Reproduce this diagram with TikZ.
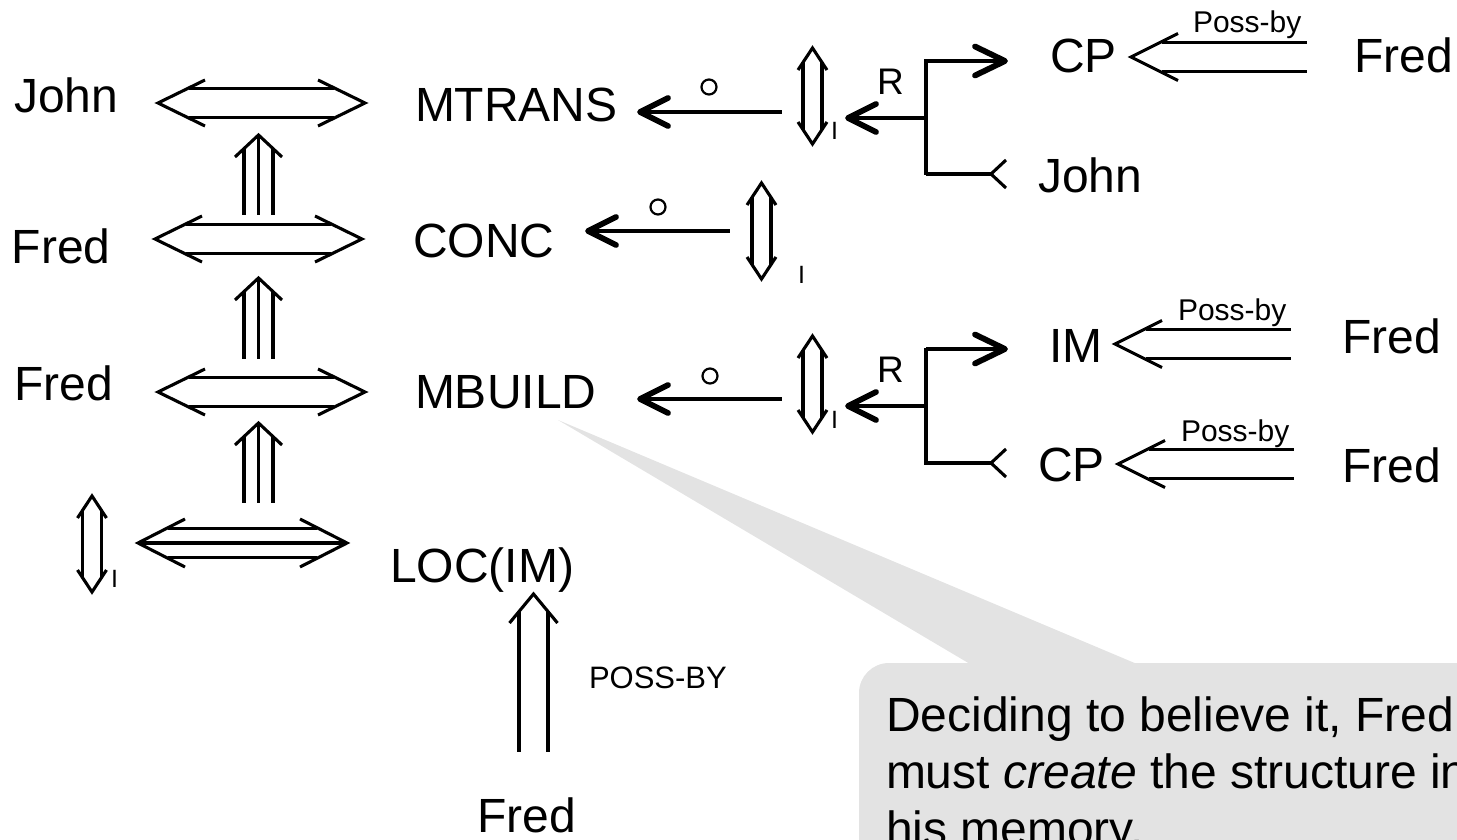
\documentclass[tikz,border=0pt]{standalone}
\usepackage{fontspec}
\setmainfont{Liberation Sans}
\definecolor{callgray}{RGB}{227,227,227}
\tikzset{
  lbl/.style={inner sep=0pt, outer sep=0pt, anchor=base west, font=\fontsize{48}{56}\selectfont},
  capt/.style={inner sep=0pt, outer sep=0pt, anchor=base west, font=\fontsize{48}{57}\selectfont},
  possl/.style={inner sep=0pt, outer sep=0pt, anchor=base west, font=\fontsize{30}{36}\selectfont},
  rl/.style={inner sep=0pt, outer sep=0pt, anchor=base west, font=\fontsize{37}{44}\selectfont},
  il/.style={inner sep=0pt, outer sep=0pt, anchor=base west, font=\fontsize{25}{30}\selectfont},
  conn/.style={line width=3.1pt, line cap=butt, line join=miter},
  heavyhead/.style={line width=5.8pt, line cap=round, line join=round},
  circ/.style={line width=2.2pt},
}
% horizontal double-line two-headed arrow: xl xr y
\newcommand\HDbl[3]{%
  \draw[conn] ({#1+47},{#3-23}) -- (#1,#3) -- ({#1+47},{#3+23});
  \draw[conn] ({#2-47},{#3-23}) -- (#2,#3) -- ({#2-47},{#3+23});
  \draw[conn] ({#1+31},{#3-14.5}) -- ({#2-31},{#3-14.5});
  \draw[conn] ({#1+31},{#3+14.5}) -- ({#2-31},{#3+14.5});}
% horizontal triple-line two-headed arrow
\newcommand\HTri[3]{%
  \draw[conn] ({#1+47},{#3-24}) -- (#1,#3) -- ({#1+47},{#3+24});
  \draw[conn] ({#2-47},{#3-24}) -- (#2,#3) -- ({#2-47},{#3+24});
  \draw[conn] ({#1+30},{#3-14.5}) -- ({#2-30},{#3-14.5});
  \draw[conn] (#1,#3) -- (#2,#3);
  \draw[conn] ({#1+30},{#3+14.5}) -- ({#2-30},{#3+14.5});}
% triple-line up arrow: x ytip ybottom
\newcommand\TriUp[3]{%
  \draw[conn] ({#1-23.5},{#2+22}) -- (#1,#2) -- ({#1+23.5},{#2+22});
  \draw[conn] ({#1-14.5},{#2+13}) -- ({#1-14.5},#3);
  \draw[conn] (#1,{#2+2}) -- (#1,#3);
  \draw[conn] ({#1+14.5},{#2+13}) -- ({#1+14.5},#3);}
% thin vertical double-line two-headed arrow: x ytop ybottom
\newcommand\VDbl[3]{%
  \draw[conn] ({#1-14.5},{#2+22}) -- (#1,#2) -- ({#1+14.5},{#2+22});
  \draw[conn] ({#1-14.5},{#3-22}) -- (#1,#3) -- ({#1+14.5},{#3-22});
  \draw[conn] ({#1-9.5},{#2+14}) -- ({#1-9.5},{#3-14});
  \draw[conn] ({#1+9.5},{#2+14}) -- ({#1+9.5},{#3-14});}
% heavy-headed left arrow: xtip xend y
\newcommand\HeavyLeft[3]{%
  \draw[conn] ({#1+4},#3) -- (#2,#3);
  \draw[heavyhead] ({#1+28},{#3-14}) -- (#1,#3) -- ({#1+28},{#3+14});}
% bracket with R arrow: ytop ymid ybottom
\newcommand\RBracket[3]{%
  \HeavyLeft{848}{926}{#2}
  \draw[conn] (926,{#1-1.5}) -- (926,{#3+1.5});
  \draw[conn] (926,#1) -- (1001,#1);
  \draw[heavyhead] (975,{#1-14.5}) -- (1005,#1) -- (975,{#1+14.5});
  \draw[conn] (926,#3) -- (991,#3);
  \draw[conn] (1006,{#3-14}) -- (991,#3) -- (1006,{#3+14});}
% poss-by double arrow pointing left: xtip y xend
\newcommand\PossArr[3]{%
  \draw[conn] ({#1+47},{#2-23.5}) -- (#1,#2) -- ({#1+47},{#2+23.5});
  \draw[conn] ({#1+31},{#2-14.5}) -- (#3,{#2-14.5});
  \draw[conn] ({#1+31},{#2+14.5}) -- (#3,{#2+14.5});}
\begin{document}
\begin{tikzpicture}[x=1pt,y=-1pt]
\useasboundingbox (0,0) rectangle (1457,840);
\clip (0,0) rectangle (1457,840);
% callout
\fill[callgray, rounded corners=30pt] (859,663) rectangle (1540,920);
\fill[callgray] (558,420) -- (1137,664) -- (970,664) -- cycle;
\node[capt] (c1) at (886,731) {Deciding to believe it, Fred};
\node[capt] (c2) at (886,788) {must \textit{create} the structure in};
\node[capt] (c3) at (886,845) {his memory.};
% left column labels
\node[lbl] (johnL) at (14,113) {John};
\node[lbl] (fredA) at (12,263) {Fred};
\node[lbl] (fredB) at (14,400) {Fred};
\node[lbl] (mtrans) at (415,122) {MTRANS};
\node[lbl] (conc) at (413,257) {CONC};
\node[lbl] (mbuild) at (415,408) {MBUILD};
\node[lbl] (loc) at (390,582) {LOC(IM)};
\node[lbl] (fredC) at (477,832) {Fred};
\node[il] (posscap) at (589,688) {\fontsize{31}{36}\selectfont POSS-BY};
% right labels
\node[lbl] (cpA) at (1050,73) {CP};
\node[lbl] (fredR1) at (1354,73) {Fred};
\node[lbl] (johnR) at (1038,193) {John};
\node[lbl] (im) at (1049,362) {IM};
\node[lbl] (fredR2) at (1342,353) {Fred};
\node[lbl] (cpB) at (1038,481) {CP};
\node[lbl] (fredR3) at (1342,482) {Fred};
\node[possl] (p1) at (1193,33) {Poss-by};
\node[possl] (p2) at (1178,320) {Poss-by};
\node[possl] (p3) at (1181,441) {Poss-by};
\node[rl] (r1) at (877,95) {R};
\node[rl] (r2) at (877,382) {R};
\node[il] (i1) at (831,140) {I};
\node[il] (i2) at (798,283) {I};
\node[il] (i3) at (831,428) {I};
\node[il] (i4) at (111,587) {I};
% two-headed arrows at left
\HDbl{158}{365}{103}
\HDbl{155}{362}{239}
\HDbl{158}{365}{392}
\HTri{138}{347}{543}
\TriUp{258.5}{135}{215}
\TriUp{258.5}{278}{359}
\TriUp{258.5}{423}{503}
\VDbl{92}{496}{592}
% LOC(IM) <= Fred
\draw[conn] (509.5,623) -- (533.5,594) -- (557.5,623);
\draw[conn] (519,611) -- (519,752);
\draw[conn] (548,611) -- (548,752);
% act arrows
\HeavyLeft{640}{782}{112}
\HeavyLeft{588}{730}{231}
\HeavyLeft{640}{782}{399}
\draw[circ] (709,87) circle (7.5);
\draw[circ] (658,207) circle (7.5);
\draw[circ] (710,376) circle (7.5);
\VDbl{812.5}{48}{144}
\VDbl{761.5}{183}{279}
\VDbl{812.5}{336}{432}
\RBracket{61}{118}{174}
\RBracket{349}{406}{463}
\PossArr{1131}{57}{1307}
\PossArr{1115}{344}{1291}
\PossArr{1118}{464}{1294}
\end{tikzpicture}
\end{document}
